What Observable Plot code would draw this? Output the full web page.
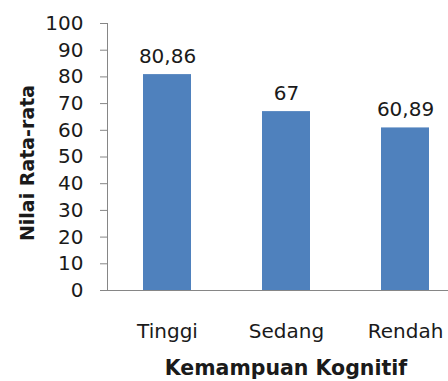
<!DOCTYPE html>
<html><head><meta charset="utf-8">
<script src="https://cdn.jsdelivr.net/npm/d3@7"></script>
<script src="https://cdn.jsdelivr.net/npm/@observablehq/plot@0.6"></script>
<style>
html,body{margin:0;padding:0;background:#fff;overflow:hidden;}
</style>
</head><body>
<div id="chart"></div>
<script>
const categories = ["Tinggi", "Sedang", "Rendah"];
const values = [80.86, 67, 60.89];
const valueLabels = ["80,86", "67", "60,89"];
const yTicks = [0, 10, 20, 30, 40, 50, 60, 70, 80, 90, 100];
const xTitle = "Kemampuan Kognitif";
const yTitle = "Nilai Rata-rata";

const data = categories.map((c, i) => ({cat: c, v: values[i], lab: valueLabels[i]}));
const font = "DejaVu Sans, sans-serif";
const gray = "#868686";
const ink = "#1a1a1a";

const chart = Plot.plot({
  width: 448,
  height: 381,
  marginLeft: 107,
  marginRight: -16,
  marginTop: 23,
  marginBottom: 91,
  style: {fontFamily: font, fontSize: "20px", color: ink, background: "#fff"},
  x: {domain: categories, paddingInner: 0.6, paddingOuter: 0.3},
  y: {domain: [0, 100]},
  marks: [
    Plot.barY(data, {x: "cat", y: "v", fill: "#4F81BD"}),
    Plot.ruleY([0], {stroke: gray, strokeWidth: 1}),
    Plot.frame({anchor: "left", stroke: gray}),
    Plot.axisY({ticks: yTicks, tickSize: 7, tickPadding: 17, stroke: gray, label: null, fontSize: 20, fill: ink}),
    Plot.axisX({tickSize: 0, tickPadding: 33, label: null, fontSize: 20, fill: ink}),
    Plot.text(data, {x: "cat", y: "v", text: "lab", lineAnchor: "bottom", dy: -12, fontSize: 20, fill: ink}),
    Plot.text([xTitle], {frameAnchor: "bottom", textAnchor: "middle", lineAnchor: "bottom", dy: 84, fontSize: 20.5, fontWeight: "bold", fill: ink}),
    Plot.text([yTitle], {frameAnchor: "left", textAnchor: "middle", lineAnchor: "bottom", rotate: -90, dx: -74, dy: 6, fontSize: 19, fontWeight: "bold", fill: ink})
  ]
});
document.getElementById("chart").appendChild(chart);
</script>
</body></html>
